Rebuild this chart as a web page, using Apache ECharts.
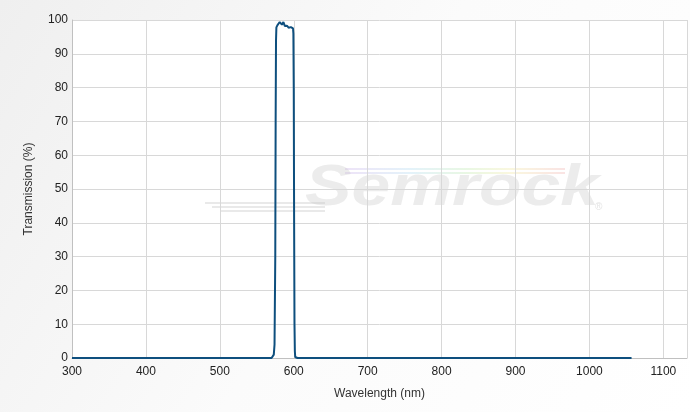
<!DOCTYPE html>
<html><head><meta charset="utf-8">
<script src="https://cdn.jsdelivr.net/npm/echarts@6/dist/echarts.min.js"></script>
<style>html,body{margin:0;padding:0;}#c{width:690px;height:412px;}</style>
</head><body><div id="c"></div>
<script>
var wavelengths = [300, 400, 500, 550, 570, 572, 573, 574, 575, 575.5, 576, 576.5, 577, 578, 579, 580, 581, 582, 583, 584, 585, 586, 587, 588, 589, 590, 591, 592, 593, 594, 595, 596, 597, 598, 599, 599.5, 600, 600.5, 601, 601.5, 602, 603, 605, 650, 700, 800, 900, 1000, 1057];
var transmission = [0, 0, 0, 0, 0, 0.2, 1, 4, 30, 70, 94, 97.8, 98.3, 98.5, 98.6, 98.9, 99.4, 99.5, 99.2, 98.6, 99.1, 99.4, 98.8, 98.2, 98.6, 97.9, 98.3, 97.8, 97.7, 97.6, 97.9, 97.9, 97.6, 97.8, 97.5, 96, 80, 40, 10, 2, 0.3, 0, 0, 0, 0, 0, 0, 0, 0];
var xTicks = [300, 400, 500, 600, 700, 800, 900, 1000, 1100];
var yTicks = [0, 10, 20, 30, 40, 50, 60, 70, 80, 90, 100];

var chart = echarts.init(document.getElementById('c'));
var pts = wavelengths.map(function (w, i) { return [w, transmission[i]]; });
var rainbow = {type: 'linear', x: 0, y: 0, x2: 1, y2: 0, colorStops: [
  {offset: 0, color: 'rgba(220,200,240,0.5)'}, {offset: 0.3, color: 'rgba(200,230,245,0.5)'},
  {offset: 0.55, color: 'rgba(210,240,200,0.5)'}, {offset: 0.75, color: 'rgba(245,240,190,0.5)'},
  {offset: 1, color: 'rgba(245,200,200,0.5)'}]};
chart.setOption({
  animation: false,
  backgroundColor: {
    type: 'linear', x: 0, y: 0, x2: 1, y2: 1,
    colorStops: [{offset: 0, color: '#efefef'}, {offset: 0.5, color: '#fbfbfb'}, {offset: 1, color: '#ffffff'}]
  },
  grid: {left: 72, right: 2, top: 20, bottom: 54, show: true, backgroundColor: '#ffffff', borderWidth: 0},
  graphic: [
    {type: 'rect', left: 205, top: 202, shape: {width: 120, height: 2}, style: {fill: 'rgba(215,215,215,0.55)'}, z: 0},
    {type: 'rect', left: 212, top: 206, shape: {width: 113, height: 2}, style: {fill: 'rgba(215,215,215,0.55)'}, z: 0},
    {type: 'rect', left: 220, top: 210, shape: {width: 105, height: 2}, style: {fill: 'rgba(215,215,215,0.55)'}, z: 0},
    {type: 'rect', left: 345, top: 168, shape: {width: 220, height: 2}, style: {fill: rainbow}, z: 0},
    {type: 'rect', left: 345, top: 172, shape: {width: 220, height: 2}, style: {fill: rainbow}, z: 0},
    {type: 'text', x: 305, y: 160, scaleX: 1.2, style: {text: 'Semrock', font: 'italic bold 58px "Liberation Sans", Arial, sans-serif', fill: 'rgba(200,200,200,0.35)'}, z: 0},
    {type: 'text', x: 595, y: 202, style: {text: '®', font: '10px "Liberation Sans", Arial, sans-serif', fill: 'rgba(200,200,200,0.5)'}, z: 0}
  ],
  xAxis: {
    type: 'value', min: 300, max: 1132, interval: 100,
    name: 'Wavelength (nm)', nameLocation: 'middle', nameGap: 30,
    nameTextStyle: {color: '#333', fontSize: 12, fontFamily: 'Liberation Sans'},
    axisLine: {show: true, lineStyle: {color: '#c0c0c0'}},
    axisTick: {show: false},
    axisLabel: {color: '#222', fontSize: 12, fontFamily: 'Liberation Sans', margin: 8,
      formatter: function (v) { return xTicks.indexOf(v) >= 0 ? String(v) : ''; }},
    splitLine: {show: true, lineStyle: {color: '#d8d8d8'}}
  },
  yAxis: {
    type: 'value', min: 0, max: 100, interval: 10,
    name: 'Transmission (%)', nameLocation: 'middle', nameGap: 37, nameRotate: 90,
    nameTextStyle: {color: '#333', fontSize: 12, fontFamily: 'Liberation Sans'},
    axisLine: {show: true, lineStyle: {color: '#c0c0c0'}},
    axisTick: {show: false},
    axisLabel: {color: '#222', fontSize: 12, fontFamily: 'Liberation Sans', margin: 4,
      formatter: function (v) { return yTicks.indexOf(v) >= 0 ? String(v) : ''; }},
    splitLine: {show: true, lineStyle: {color: '#d8d8d8'}}
  },
  series: [{
    type: 'line', data: pts, showSymbol: false, smooth: false,
    lineStyle: {color: '#0e4f7e', width: 2}, z: 5
  }]
});
</script></body></html>
